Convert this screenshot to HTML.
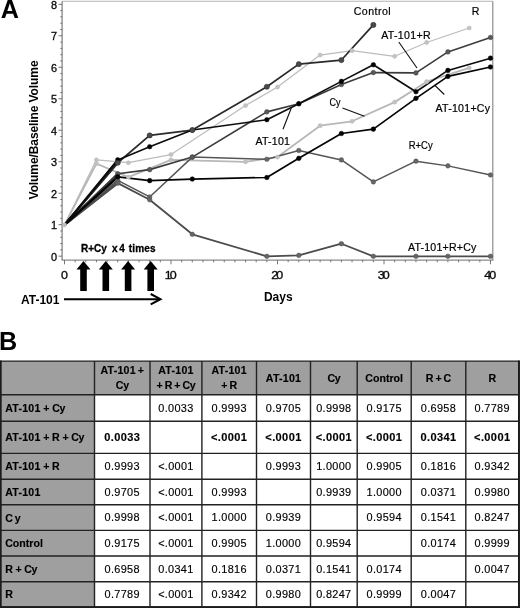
<!DOCTYPE html>
<html lang="en">
<head>
<meta charset="utf-8">
<title>Figure</title>
<style>
html,body{margin:0;padding:0;background:#fff;}
body{width:520px;height:608px;position:relative;overflow:hidden;font-family:"Liberation Sans",sans-serif;color:#111;}
svg.chart{position:absolute;left:0;top:0;}
svg text{font-family:"Liberation Sans",sans-serif;fill:#111;}
.tick text{font-size:10.4px;fill:#0a0a0a;stroke:#0a0a0a;stroke-width:0.3px;}
.ttl{font-size:12px;font-weight:bold;fill:#000;}
.panel{font-size:25.2px;font-weight:bold;fill:#000;}
.lab text{font-size:10.6px;fill:#000;stroke:#000;stroke-width:0.2px;}
.ann{font-size:12px;font-weight:bold;fill:#000;}
.ann2{font-size:10px;font-weight:bold;fill:#000;stroke:#000;stroke-width:0.3px;}
.pb{position:absolute;left:-1px;top:327px;font-size:25.2px;font-weight:bold;line-height:28px;color:#000;}
.tbl{position:absolute;left:0;top:0;width:520px;height:608px;}
.c{position:absolute;box-sizing:border-box;display:flex;align-items:center;justify-content:center;text-align:center;font-size:10.9px;letter-spacing:0.33px;line-height:13px;color:#000;-webkit-text-stroke:0.15px #000;background:#fff;padding-top:0.6px;}
.c.h{background:#9f9f9f;font-weight:bold;font-size:10.6px;letter-spacing:0;line-height:14.8px;color:#000;padding-top:0.4px;}
.c.rl{background:#9f9f9f;font-weight:bold;font-size:10.6px;letter-spacing:0;justify-content:flex-start;padding-left:4.5px;color:#000;padding-top:1.3px;}
.c.b{font-weight:bold;font-size:11px;letter-spacing:0.4px;color:#000;padding-top:0;}
.c i{font-style:normal;}
.c .at{letter-spacing:0.25px;}
.c .cy{letter-spacing:-0.35px;}
.c.h{word-spacing:-1px;}
.c.rl{word-spacing:-0.3px;}
svg.grid{position:absolute;left:0;top:320px;}
</style>
</head>
<body>
<svg class="chart" width="520" height="320" viewBox="0 0 520 320">
<path d="M62.1 1.3H492.8" stroke="#b5b5b5" stroke-width="1.1" fill="none"/>
<path d="M492.8 1.3V260.1" stroke="#8c8c8c" stroke-width="1.2" fill="none"/>
<path d="M62.1 1.3V260.1" stroke="#7a7a7a" stroke-width="1.2" fill="none"/>
<path d="M61.5 260.1H493.40000000000003" stroke="#8a8a8a" stroke-width="1.1" fill="none"/>
<path d="M58.5 256.15H62.1M60.300000000000004 249.85H62.1M60.300000000000004 243.56H62.1M60.300000000000004 237.26H62.1M60.300000000000004 230.97H62.1M58.5 224.67H62.1M60.300000000000004 218.37H62.1M60.300000000000004 212.08H62.1M60.300000000000004 205.78H62.1M60.300000000000004 199.49H62.1M58.5 193.19H62.1M60.300000000000004 186.89H62.1M60.300000000000004 180.60H62.1M60.300000000000004 174.30H62.1M60.300000000000004 168.01H62.1M58.5 161.71H62.1M60.300000000000004 155.41H62.1M60.300000000000004 149.12H62.1M60.300000000000004 142.82H62.1M60.300000000000004 136.53H62.1M58.5 130.23H62.1M60.300000000000004 123.93H62.1M60.300000000000004 117.64H62.1M60.300000000000004 111.34H62.1M60.300000000000004 105.05H62.1M58.5 98.75H62.1M60.300000000000004 92.45H62.1M60.300000000000004 86.16H62.1M60.300000000000004 79.86H62.1M60.300000000000004 73.57H62.1M58.5 67.27H62.1M60.300000000000004 60.97H62.1M60.300000000000004 54.68H62.1M60.300000000000004 48.38H62.1M60.300000000000004 42.09H62.1M58.5 35.79H62.1M60.300000000000004 29.49H62.1M60.300000000000004 23.20H62.1M60.300000000000004 16.90H62.1M60.300000000000004 10.61H62.1M58.5 4.31H62.1M64.50 260.1V264.3M75.15 260.1V262.3M85.80 260.1V262.3M96.45 260.1V262.3M107.10 260.1V262.3M117.75 260.1V262.3M128.40 260.1V262.3M139.05 260.1V262.3M149.70 260.1V262.3M160.35 260.1V262.3M171.00 260.1V264.3M181.65 260.1V262.3M192.30 260.1V262.3M202.95 260.1V262.3M213.60 260.1V262.3M224.25 260.1V262.3M234.90 260.1V262.3M245.55 260.1V262.3M256.20 260.1V262.3M266.85 260.1V262.3M277.50 260.1V264.3M288.15 260.1V262.3M298.80 260.1V262.3M309.45 260.1V262.3M320.10 260.1V262.3M330.75 260.1V262.3M341.40 260.1V262.3M352.05 260.1V262.3M362.70 260.1V262.3M373.35 260.1V262.3M384.00 260.1V264.3M394.65 260.1V262.3M405.30 260.1V262.3M415.95 260.1V262.3M426.60 260.1V262.3M437.25 260.1V262.3M447.90 260.1V262.3M458.55 260.1V262.3M469.20 260.1V262.3M479.85 260.1V262.3M490.50 260.1V264.3" stroke="#666" stroke-width="0.9" fill="none"/>
<g class="tick">
<text transform="translate(57.1,260.8) scale(1.06,1)" text-anchor="end" style="font-size:10.3px">0</text>
<text transform="translate(57.1,229.3) scale(1.06,1)" text-anchor="end" style="font-size:10.3px">1</text>
<text transform="translate(57.1,197.8) scale(1.06,1)" text-anchor="end" style="font-size:10.3px">2</text>
<text transform="translate(57.1,166.3) scale(1.06,1)" text-anchor="end" style="font-size:10.3px">3</text>
<text transform="translate(57.1,134.8) scale(1.06,1)" text-anchor="end" style="font-size:10.3px">4</text>
<text transform="translate(57.1,103.3) scale(1.06,1)" text-anchor="end" style="font-size:10.3px">5</text>
<text transform="translate(57.1,71.9) scale(1.06,1)" text-anchor="end" style="font-size:10.3px">6</text>
<text transform="translate(57.1,40.4) scale(1.06,1)" text-anchor="end" style="font-size:10.3px">7</text>
<text transform="translate(57.1,8.9) scale(1.06,1)" text-anchor="end" style="font-size:10.3px">8</text>
<text transform="translate(63.6,278.7) scale(1.2,1)" text-anchor="middle" letter-spacing="-1.6">0</text>
<text transform="translate(169.8,278.7) scale(1.2,1)" text-anchor="middle" letter-spacing="-1.6">10</text>
<text transform="translate(276.3,278.7) scale(1.2,1)" text-anchor="middle" letter-spacing="-1.6">20</text>
<text transform="translate(382.8,278.7) scale(1.2,1)" text-anchor="middle" letter-spacing="-1.6">30</text>
<text transform="translate(489.3,278.7) scale(1.2,1)" text-anchor="middle" letter-spacing="-1.6">40</text>
</g>
<text class="ttl" transform="translate(38.1,129.9) rotate(-90)" text-anchor="middle" textLength="139" lengthAdjust="spacing">Volume/Baseline Volume</text>
<text class="ttl" x="278.3" y="301" text-anchor="middle">Days</text>
<text class="panel" x="0.7" y="17.8">A</text>
<path d="M64.50 224.90L96.45 159.90L128.40 162.73L171.00 154.56L245.55 105.58L277.50 87.05L320.10 55.03L352.05 50.63L394.65 56.28L426.60 42.47L469.20 28.02" stroke="#bcbcbc" stroke-width="1.25" fill="none" stroke-linejoin="round"/>
<path d="M64.50 224.90L96.45 163.67L128.40 177.17L171.00 159.90L245.55 161.79L277.50 157.08L320.10 125.68L352.05 121.28L394.65 102.13L426.60 81.72L469.20 67.90" stroke="#b8b8b8" stroke-width="1.8" fill="none" stroke-linejoin="round"/>
<path d="M64.50 224.90L117.75 180.31L149.70 196.95L192.30 157.08L266.85 159.27L298.80 150.48L341.40 159.90L373.35 181.88L415.95 161.16L447.90 165.87L490.50 174.97" stroke="#555555" stroke-width="1.5" fill="none" stroke-linejoin="round"/>
<path d="M64.50 224.90L117.75 180.31" stroke="#555555" stroke-width="2.0" fill="none"/>
<path d="M64.50 224.90L117.75 183.14L149.70 199.78L192.30 234.32L266.85 256.30L298.80 255.36L341.40 243.74L373.35 256.30L415.95 256.30L447.90 256.30L490.50 256.30" stroke="#4c4c4c" stroke-width="1.8" fill="none" stroke-linejoin="round"/>
<path d="M64.50 224.90L117.75 183.14" stroke="#4c4c4c" stroke-width="2.3" fill="none"/>
<path d="M64.50 224.90L117.75 173.72L149.70 169.64L192.30 157.08L266.85 111.86L298.80 103.70L341.40 84.54L373.35 72.61L415.95 72.92L447.90 51.89L490.50 37.44" stroke="#3c3c3c" stroke-width="1.6" fill="none" stroke-linejoin="round"/>
<path d="M64.50 224.90L117.75 173.72" stroke="#3c3c3c" stroke-width="2.1" fill="none"/>
<path d="M64.50 224.90L117.75 162.73L149.70 135.41L192.30 130.07L266.85 86.74L298.80 64.13L341.40 60.05L373.35 24.88" stroke="#2a2a2a" stroke-width="1.7" fill="none" stroke-linejoin="round"/>
<path d="M64.50 224.90L117.75 162.73" stroke="#2a2a2a" stroke-width="2.2" fill="none"/>
<path d="M64.50 224.90L117.75 176.86L149.70 180.63L192.30 179.06L266.85 177.49L298.80 158.33L341.40 133.53L373.35 129.13L415.95 98.36L447.90 76.38L490.50 66.96" stroke="#050505" stroke-width="1.7" fill="none" stroke-linejoin="round"/>
<path d="M64.50 224.90L117.75 176.86" stroke="#050505" stroke-width="2.2" fill="none"/>
<path d="M64.50 224.90L117.75 159.90L149.70 146.71L192.30 130.07L266.85 119.71L298.80 103.70L341.40 81.40L373.35 64.76L415.95 91.76L447.90 70.41L490.50 58.17" stroke="#0c0c0c" stroke-width="1.6" fill="none" stroke-linejoin="round"/>
<path d="M64.50 224.90L117.75 159.90" stroke="#0c0c0c" stroke-width="2.1" fill="none"/>
<g fill="#666666" stroke="#555555" stroke-width="0.5">
<circle cx="117.75" cy="180.31" r="2.3"/>
<circle cx="149.70" cy="196.95" r="2.3"/>
<circle cx="192.30" cy="157.08" r="2.3"/>
<circle cx="266.85" cy="159.27" r="2.3"/>
<circle cx="298.80" cy="150.48" r="2.3"/>
<circle cx="341.40" cy="159.90" r="2.3"/>
<circle cx="373.35" cy="181.88" r="2.3"/>
<circle cx="415.95" cy="161.16" r="2.3"/>
<circle cx="447.90" cy="165.87" r="2.3"/>
<circle cx="490.50" cy="174.97" r="2.3"/>
</g>
<g fill="#666666" stroke="#4c4c4c" stroke-width="0.5">
<circle cx="117.75" cy="183.14" r="2.3"/>
<circle cx="149.70" cy="199.78" r="2.3"/>
<circle cx="192.30" cy="234.32" r="2.3"/>
<circle cx="266.85" cy="256.30" r="2.3"/>
<circle cx="298.80" cy="255.36" r="2.3"/>
<circle cx="341.40" cy="243.74" r="2.3"/>
<circle cx="373.35" cy="256.30" r="2.3"/>
<circle cx="415.95" cy="256.30" r="2.3"/>
<circle cx="447.90" cy="256.30" r="2.3"/>
<circle cx="490.50" cy="256.30" r="2.3"/>
</g>
<g fill="#5a5a5a" stroke="#3c3c3c" stroke-width="0.5">
<circle cx="117.75" cy="173.72" r="2.3"/>
<circle cx="149.70" cy="169.64" r="2.3"/>
<circle cx="192.30" cy="157.08" r="2.3"/>
<circle cx="266.85" cy="111.86" r="2.3"/>
<circle cx="298.80" cy="103.70" r="2.3"/>
<circle cx="341.40" cy="84.54" r="2.3"/>
<circle cx="373.35" cy="72.61" r="2.3"/>
<circle cx="415.95" cy="72.92" r="2.3"/>
<circle cx="447.90" cy="51.89" r="2.3"/>
<circle cx="490.50" cy="37.44" r="2.3"/>
</g>
<g fill="#000000" stroke="#050505" stroke-width="0.5">
<circle cx="117.75" cy="176.86" r="2.3"/>
<circle cx="149.70" cy="180.63" r="2.3"/>
<circle cx="192.30" cy="179.06" r="2.3"/>
<circle cx="266.85" cy="177.49" r="2.3"/>
<circle cx="298.80" cy="158.33" r="2.3"/>
<circle cx="341.40" cy="133.53" r="2.3"/>
<circle cx="373.35" cy="129.13" r="2.3"/>
<circle cx="415.95" cy="98.36" r="2.3"/>
<circle cx="447.90" cy="76.38" r="2.3"/>
<circle cx="490.50" cy="66.96" r="2.3"/>
</g>
<g fill="#000000" stroke="#0c0c0c" stroke-width="0.5">
<circle cx="117.75" cy="159.90" r="2.3"/>
<circle cx="149.70" cy="146.71" r="2.3"/>
<circle cx="192.30" cy="130.07" r="2.3"/>
<circle cx="266.85" cy="119.71" r="2.3"/>
<circle cx="298.80" cy="103.70" r="2.3"/>
<circle cx="341.40" cy="81.40" r="2.3"/>
<circle cx="373.35" cy="64.76" r="2.3"/>
<circle cx="415.95" cy="91.76" r="2.3"/>
<circle cx="447.90" cy="70.41" r="2.3"/>
<circle cx="490.50" cy="58.17" r="2.3"/>
</g>
<g fill="#4a4a4a" stroke="#2a2a2a" stroke-width="0.5">
<circle cx="117.75" cy="162.73" r="2.6"/>
<circle cx="149.70" cy="135.41" r="2.6"/>
<circle cx="192.30" cy="130.07" r="2.6"/>
<circle cx="266.85" cy="86.74" r="2.6"/>
<circle cx="298.80" cy="64.13" r="2.6"/>
<circle cx="341.40" cy="60.05" r="2.6"/>
<circle cx="373.35" cy="24.88" r="2.6"/>
</g>
<g fill="#c2c2c2" stroke="#bcbcbc" stroke-width="0.5">
<circle cx="96.45" cy="159.90" r="2.1"/>
<circle cx="128.40" cy="162.73" r="2.1"/>
<circle cx="171.00" cy="154.56" r="2.1"/>
<circle cx="245.55" cy="105.58" r="2.1"/>
<circle cx="277.50" cy="87.05" r="2.1"/>
<circle cx="320.10" cy="55.03" r="2.1"/>
<circle cx="352.05" cy="50.63" r="2.1"/>
<circle cx="394.65" cy="56.28" r="2.1"/>
<circle cx="426.60" cy="42.47" r="2.1"/>
<circle cx="469.20" cy="28.02" r="2.1"/>
</g>
<g fill="#c2c2c2" stroke="#b8b8b8" stroke-width="0.5">
<circle cx="64.50" cy="224.90" r="2.1"/>
<circle cx="96.45" cy="163.67" r="2.1"/>
<circle cx="128.40" cy="177.17" r="2.1"/>
<circle cx="171.00" cy="159.90" r="2.1"/>
<circle cx="245.55" cy="161.79" r="2.1"/>
<circle cx="277.50" cy="157.08" r="2.1"/>
<circle cx="320.10" cy="125.68" r="2.1"/>
<circle cx="352.05" cy="121.28" r="2.1"/>
<circle cx="394.65" cy="102.13" r="2.1"/>
<circle cx="426.60" cy="81.72" r="2.1"/>
<circle cx="469.20" cy="67.90" r="2.1"/>
</g>
<path d="M342.5 108L364.5 116.3M291.3 108L283 129.3M398.8 42L417 68M434.5 85L444.3 94.5" stroke="#111" stroke-width="1.1" fill="none"/>
<g class="lab">
<text x="353.7" y="14.5" textLength="37" lengthAdjust="spacing">Control</text>
<text x="471.7" y="14.5">R</text>
<text x="381.2" y="39" textLength="49.4" lengthAdjust="spacing">AT-101+R</text>
<text x="435.5" y="112" textLength="54.5" lengthAdjust="spacing">AT-101+Cy</text>
<text x="329.5" y="106" textLength="11" lengthAdjust="spacingAndGlyphs">Cy</text>
<text x="255.5" y="145" textLength="34.5" lengthAdjust="spacing">AT-101</text>
<text x="408.7" y="149" textLength="24" lengthAdjust="spacingAndGlyphs">R+Cy</text>
<text x="408" y="250.5" textLength="68.3" lengthAdjust="spacing">AT-101+R+Cy</text>
</g>
<path d="M83.5 261L90.5 269.6H86.8V291H80.2V269.6H76.5Z" fill="#000"/>
<path d="M105.8 261L112.8 269.6H109.1V291H102.5V269.6H98.8Z" fill="#000"/>
<path d="M128.1 261L135.1 269.6H131.4V291H124.8V269.6H121.1Z" fill="#000"/>
<path d="M150.7 261L157.7 269.6H154.0V291H147.39999999999998V269.6H143.7Z" fill="#000"/>
<path d="M64 299.2H159.5" stroke="#000" stroke-width="2" fill="none"/>
<path d="M150.7 294L160.5 299.2L150.7 304.4" stroke="#000" stroke-width="2" fill="none" stroke-linejoin="miter"/>
<text class="ann" x="21" y="304">AT-101</text>
<text class="ann2" x="81" y="251.7">R+Cy <tspan x="111.9">x</tspan> <tspan x="119.3">4</tspan> <tspan x="128.8" textLength="26.8" lengthAdjust="spacing">times</tspan></text>
</svg>
<div class="pb">B</div>
<div class="tbl">
<div class="c h" style="left:0.7px;top:361.1px;width:93.8px;height:33.7px"><span></span></div>
<div class="c h" style="left:94.5px;top:361.1px;width:55.5px;height:33.7px"><span><i class="at">AT-101</i> +<br><i class="cy">Cy</i></span></div>
<div class="c h" style="left:150.0px;top:361.1px;width:51.9px;height:33.7px"><span><i class="at">AT-101</i><br>+ R + <i class="cy">Cy</i></span></div>
<div class="c h" style="left:201.9px;top:361.1px;width:54.6px;height:33.7px"><span><i class="at">AT-101</i><br>+ R</span></div>
<div class="c h" style="left:256.5px;top:361.1px;width:54.0px;height:33.7px"><span><i class="at">AT-101</i></span></div>
<div class="c h" style="left:310.5px;top:361.1px;width:46.7px;height:33.7px"><span><i class="cy">Cy</i></span></div>
<div class="c h" style="left:357.2px;top:361.1px;width:54.0px;height:33.7px"><span>Control</span></div>
<div class="c h" style="left:411.2px;top:361.1px;width:54.6px;height:33.7px"><span>R + C</span></div>
<div class="c h" style="left:465.8px;top:361.1px;width:52.9px;height:33.7px"><span>R</span></div>
<div class="c rl" style="left:0.7px;top:394.8px;width:93.8px;height:26.5px"><span><i class="at">AT-101</i> + <i class="cy">Cy</i></span></div>
<div class="c d" style="left:94.5px;top:394.8px;width:55.5px;height:26.5px"><span></span></div>
<div class="c d" style="left:150.0px;top:394.8px;width:51.9px;height:26.5px"><span>0.0033</span></div>
<div class="c d" style="left:201.9px;top:394.8px;width:54.6px;height:26.5px"><span>0.9993</span></div>
<div class="c d" style="left:256.5px;top:394.8px;width:54.0px;height:26.5px"><span>0.9705</span></div>
<div class="c d" style="left:310.5px;top:394.8px;width:46.7px;height:26.5px"><span>0.9998</span></div>
<div class="c d" style="left:357.2px;top:394.8px;width:54.0px;height:26.5px"><span>0.9175</span></div>
<div class="c d" style="left:411.2px;top:394.8px;width:54.6px;height:26.5px"><span>0.6958</span></div>
<div class="c d" style="left:465.8px;top:394.8px;width:52.9px;height:26.5px"><span>0.7789</span></div>
<div class="c rl" style="left:0.7px;top:421.3px;width:93.8px;height:32.1px"><span><i class="at">AT-101</i> + R + <i class="cy">Cy</i></span></div>
<div class="c d b" style="left:94.5px;top:421.3px;width:55.5px;height:32.1px"><span>0.0033</span></div>
<div class="c d b" style="left:150.0px;top:421.3px;width:51.9px;height:32.1px"><span></span></div>
<div class="c d b" style="left:201.9px;top:421.3px;width:54.6px;height:32.1px"><span>&lt;.0001</span></div>
<div class="c d b" style="left:256.5px;top:421.3px;width:54.0px;height:32.1px"><span>&lt;.0001</span></div>
<div class="c d b" style="left:310.5px;top:421.3px;width:46.7px;height:32.1px"><span>&lt;.0001</span></div>
<div class="c d b" style="left:357.2px;top:421.3px;width:54.0px;height:32.1px"><span>&lt;.0001</span></div>
<div class="c d b" style="left:411.2px;top:421.3px;width:54.6px;height:32.1px"><span>0.0341</span></div>
<div class="c d b" style="left:465.8px;top:421.3px;width:52.9px;height:32.1px"><span>&lt;.0001</span></div>
<div class="c rl" style="left:0.7px;top:453.4px;width:93.8px;height:25.9px"><span><i class="at">AT-101</i> + R</span></div>
<div class="c d" style="left:94.5px;top:453.4px;width:55.5px;height:25.9px"><span>0.9993</span></div>
<div class="c d" style="left:150.0px;top:453.4px;width:51.9px;height:25.9px"><span>&lt;.0001</span></div>
<div class="c d" style="left:201.9px;top:453.4px;width:54.6px;height:25.9px"><span></span></div>
<div class="c d" style="left:256.5px;top:453.4px;width:54.0px;height:25.9px"><span>0.9993</span></div>
<div class="c d" style="left:310.5px;top:453.4px;width:46.7px;height:25.9px"><span>1.0000</span></div>
<div class="c d" style="left:357.2px;top:453.4px;width:54.0px;height:25.9px"><span>0.9905</span></div>
<div class="c d" style="left:411.2px;top:453.4px;width:54.6px;height:25.9px"><span>0.1816</span></div>
<div class="c d" style="left:465.8px;top:453.4px;width:52.9px;height:25.9px"><span>0.9342</span></div>
<div class="c rl" style="left:0.7px;top:479.3px;width:93.8px;height:25.5px"><span><i class="at">AT-101</i></span></div>
<div class="c d" style="left:94.5px;top:479.3px;width:55.5px;height:25.5px"><span>0.9705</span></div>
<div class="c d" style="left:150.0px;top:479.3px;width:51.9px;height:25.5px"><span>&lt;.0001</span></div>
<div class="c d" style="left:201.9px;top:479.3px;width:54.6px;height:25.5px"><span>0.9993</span></div>
<div class="c d" style="left:256.5px;top:479.3px;width:54.0px;height:25.5px"><span></span></div>
<div class="c d" style="left:310.5px;top:479.3px;width:46.7px;height:25.5px"><span>0.9939</span></div>
<div class="c d" style="left:357.2px;top:479.3px;width:54.0px;height:25.5px"><span>1.0000</span></div>
<div class="c d" style="left:411.2px;top:479.3px;width:54.6px;height:25.5px"><span>0.0371</span></div>
<div class="c d" style="left:465.8px;top:479.3px;width:52.9px;height:25.5px"><span>0.9980</span></div>
<div class="c rl" style="left:0.7px;top:504.8px;width:93.8px;height:25.6px"><span><i class="cy">C y</i></span></div>
<div class="c d" style="left:94.5px;top:504.8px;width:55.5px;height:25.6px"><span>0.9998</span></div>
<div class="c d" style="left:150.0px;top:504.8px;width:51.9px;height:25.6px"><span>&lt;.0001</span></div>
<div class="c d" style="left:201.9px;top:504.8px;width:54.6px;height:25.6px"><span>1.0000</span></div>
<div class="c d" style="left:256.5px;top:504.8px;width:54.0px;height:25.6px"><span>0.9939</span></div>
<div class="c d" style="left:310.5px;top:504.8px;width:46.7px;height:25.6px"><span></span></div>
<div class="c d" style="left:357.2px;top:504.8px;width:54.0px;height:25.6px"><span>0.9594</span></div>
<div class="c d" style="left:411.2px;top:504.8px;width:54.6px;height:25.6px"><span>0.1541</span></div>
<div class="c d" style="left:465.8px;top:504.8px;width:52.9px;height:25.6px"><span>0.8247</span></div>
<div class="c rl" style="left:0.7px;top:530.4px;width:93.8px;height:25.6px"><span>Control</span></div>
<div class="c d" style="left:94.5px;top:530.4px;width:55.5px;height:25.6px"><span>0.9175</span></div>
<div class="c d" style="left:150.0px;top:530.4px;width:51.9px;height:25.6px"><span>&lt;.0001</span></div>
<div class="c d" style="left:201.9px;top:530.4px;width:54.6px;height:25.6px"><span>0.9905</span></div>
<div class="c d" style="left:256.5px;top:530.4px;width:54.0px;height:25.6px"><span>1.0000</span></div>
<div class="c d" style="left:310.5px;top:530.4px;width:46.7px;height:25.6px"><span>0.9594</span></div>
<div class="c d" style="left:357.2px;top:530.4px;width:54.0px;height:25.6px"><span></span></div>
<div class="c d" style="left:411.2px;top:530.4px;width:54.6px;height:25.6px"><span>0.0174</span></div>
<div class="c d" style="left:465.8px;top:530.4px;width:52.9px;height:25.6px"><span>0.9999</span></div>
<div class="c rl" style="left:0.7px;top:556.0px;width:93.8px;height:25.7px"><span>R + <i class="cy">Cy</i></span></div>
<div class="c d" style="left:94.5px;top:556.0px;width:55.5px;height:25.7px"><span>0.6958</span></div>
<div class="c d" style="left:150.0px;top:556.0px;width:51.9px;height:25.7px"><span>0.0341</span></div>
<div class="c d" style="left:201.9px;top:556.0px;width:54.6px;height:25.7px"><span>0.1816</span></div>
<div class="c d" style="left:256.5px;top:556.0px;width:54.0px;height:25.7px"><span>0.0371</span></div>
<div class="c d" style="left:310.5px;top:556.0px;width:46.7px;height:25.7px"><span>0.1541</span></div>
<div class="c d" style="left:357.2px;top:556.0px;width:54.0px;height:25.7px"><span>0.0174</span></div>
<div class="c d" style="left:411.2px;top:556.0px;width:54.6px;height:25.7px"><span></span></div>
<div class="c d" style="left:465.8px;top:556.0px;width:52.9px;height:25.7px"><span>0.0047</span></div>
<div class="c rl" style="left:0.7px;top:581.7px;width:93.8px;height:25.2px"><span>R</span></div>
<div class="c d" style="left:94.5px;top:581.7px;width:55.5px;height:25.2px"><span>0.7789</span></div>
<div class="c d" style="left:150.0px;top:581.7px;width:51.9px;height:25.2px"><span>&lt;.0001</span></div>
<div class="c d" style="left:201.9px;top:581.7px;width:54.6px;height:25.2px"><span>0.9342</span></div>
<div class="c d" style="left:256.5px;top:581.7px;width:54.0px;height:25.2px"><span>0.9980</span></div>
<div class="c d" style="left:310.5px;top:581.7px;width:46.7px;height:25.2px"><span>0.8247</span></div>
<div class="c d" style="left:357.2px;top:581.7px;width:54.0px;height:25.2px"><span>0.9999</span></div>
<div class="c d" style="left:411.2px;top:581.7px;width:54.6px;height:25.2px"><span>0.0047</span></div>
<div class="c d" style="left:465.8px;top:581.7px;width:52.9px;height:25.2px"><span></span></div>
<svg class="grid" width="520" height="288" viewBox="0 320 520 288"><path d="M0 361.1H519.4M0 394.8H519.4M0 421.3H519.4M0 453.4H519.4M0 479.3H519.4M0 504.8H519.4M0 530.4H519.4M0 556H519.4M0 581.7H519.4M0 606.9H519.4M0.7 361.1V606.9M94.5 361.1V606.9M150 361.1V606.9M201.9 361.1V606.9M256.5 361.1V606.9M310.5 361.1V606.9M357.2 361.1V606.9M411.2 361.1V606.9M465.8 361.1V606.9M518.7 361.1V606.9" stroke="#222" stroke-width="1.4" fill="none"/><path d="M519 360.45000000000005V608M0 607.15H520M0.55 360.45000000000005V608" stroke="#1c1c1c" stroke-width="1.9" fill="none"/></svg>
</div>
</body>
</html>
